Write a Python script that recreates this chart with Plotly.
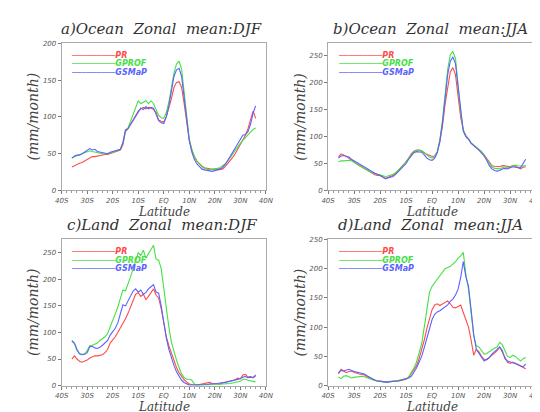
import plotly.graph_objects as go

lat = list(range(-36, 37))
tick_vals = [-40, -30, -20, -10, 0, 10, 20, 30, 40]
tick_text = ["40S", "30S", "20S", "10S", "EQ", "10N", "20N", "30N", "40N"]
series_names = ["PR", "GPROF", "GSMaP"]
series_colors = ["#ff4a4a", "#44e044", "#5a62ff"]
panel_titles = ["a)Ocean Zonal mean:DJF", "b)Ocean Zonal mean:JJA",
                "c)Land Zonal mean:DJF", "d)Land Zonal mean:JJA"]
y_max = [200, 273, 275, 250]

# a) Ocean DJF
oc_djf_pr = [32, 34, 36, 37, 38, 40, 42, 44, 46, 46, 47, 48, 48, 49, 49, 50, 51, 52, 54, 55,
             62, 80, 84, 90, 95, 103, 108, 111, 113, 111, 113, 112, 110, 106, 96, 94, 93,
             100, 112, 125, 140, 147, 148, 140, 118, 90, 68, 55, 46, 40, 36, 33, 31, 30, 29,
             28, 28, 28, 28, 29, 32, 36, 40, 45, 50, 56, 62, 68, 75, 84, 95, 108, 98]
oc_djf_gprof = [44, 46, 47, 49, 50, 51, 52, 54, 53, 52, 51, 50, 50, 50, 50, 51, 52, 53, 54, 56,
                65, 82, 85, 95, 104, 112, 122, 118, 120, 122, 118, 122, 118, 110, 102, 99, 98,
                106, 120, 140, 160, 172, 176, 165, 130, 95, 70, 56, 46, 40, 36, 32, 30, 29,
                28, 29, 29, 30, 31, 33, 36, 40, 45, 50, 55, 60, 64, 68, 72, 76, 80, 83, 85]
oc_djf_gsmap = [44, 47, 48, 48, 50, 52, 55, 57, 55, 56, 53, 52, 51, 50, 50, 52, 53, 53, 54, 56,
                65, 82, 84, 90, 96, 102, 108, 112, 110, 114, 111, 113, 112, 104, 95, 92, 91,
                100, 115, 135, 155, 164, 166, 155, 125, 92, 68, 52, 42, 36, 32, 29, 28, 27,
                27, 26, 27, 28, 29, 31, 35, 40, 46, 52, 58, 64, 70, 75, 76, 80, 90, 105, 115, 121]

# b) Ocean JJA
oc_jja_pr = [62, 68, 66, 63, 60, 57, 53, 49, 46, 43, 40, 37, 34, 31, 29, 28, 28, 26, 22, 24,
             26, 28, 32, 37, 42, 46, 53, 60, 68, 73, 75, 75, 73, 70, 67, 65, 63, 64, 72, 90,
             120, 160, 195, 220, 228, 215, 175, 135, 112, 102, 96, 88, 84, 80, 76, 72, 66,
             60, 52, 46, 45, 45, 44, 46, 46, 45, 44, 46, 45, 42, 40, 43, 44]
oc_jja_gprof = [53, 55, 55, 56, 56, 55, 52, 49, 46, 43, 40, 38, 35, 33, 31, 30, 29, 27, 26, 27,
                28, 30, 33, 37, 42, 47, 53, 60, 67, 72, 74, 75, 74, 70, 66, 62, 60, 62, 72, 95,
                130, 175, 225, 252, 258, 245, 195, 145, 112, 100, 96, 88, 84, 80, 76, 72, 65,
                58, 50, 44, 41, 40, 40, 42, 44, 42, 43, 46, 47, 46, 45, 45, 47]
oc_jja_gsmap = [60, 64, 65, 64, 62, 58, 55, 52, 49, 46, 43, 40, 37, 34, 32, 30, 28, 25, 22, 23,
                24, 26, 30, 35, 39, 44, 50, 58, 65, 70, 72, 72, 71, 66, 60, 57, 56, 60, 70, 92,
                125, 170, 215, 240, 248, 235, 190, 142, 110, 100, 95, 88, 83, 79, 75, 70, 64,
                56, 46, 40, 37, 36, 37, 40, 41, 40, 42, 44, 43, 42, 42, 50, 58]

# c) Land DJF
ld_djf_pr = [50, 56, 50, 46, 44, 46, 48, 52, 54, 56, 56, 57, 58, 62, 68, 80, 85, 92, 100, 108,
             116, 126, 136, 148, 160, 172, 175, 168, 172, 162, 168, 176, 182, 170, 165, 145,
             115, 92, 75, 60, 46, 34, 24, 17, 11, 7, 3, 2, 1, 1, 2, 3, 3, 4, 6, 4, 4, 3, 3,
             5, 6, 7, 8, 10, 11, 14, 13, 20, 21, 16, 17, 15, 18]
ld_djf_gprof = [85, 79, 66, 60, 59, 60, 66, 75, 76, 78, 80, 85, 88, 92, 98, 110, 120, 135, 148,
                165, 180, 178, 190, 205, 220, 235, 250, 245, 255, 240, 248, 255, 264, 238, 236,
                220, 180, 140, 110, 82, 62, 48, 34, 22, 15, 12, 12, 10, 3, 1, 1, 1, 1, 1, 1,
                1, 2, 2, 2, 3, 3, 3, 4, 5, 6, 6, 8, 12, 12, 10, 9, 8, 7]
ld_djf_gsmap = [84, 80, 68, 60, 58, 59, 62, 73, 74, 71, 70, 72, 76, 80, 85, 95, 102, 108, 118,
                138, 152, 150, 160, 170, 178, 182, 176, 180, 172, 175, 182, 186, 190, 176, 174,
                150, 118, 90, 68, 52, 38, 26, 18, 10, 6, 3, 1, 1, 1, 1, 2, 2, 2, 2, 3, 3, 4, 4,
                5, 5, 6, 7, 8, 9, 10, 12, 13, 16, 17, 15, 16, 15, 20]

# d) Land JJA
ld_jja_pr = [20, 28, 25, 22, 24, 25, 23, 21, 20, 19, 18, 15, 13, 11, 10, 8, 8, 7, 6, 6, 7, 7,
             8, 8, 9, 10, 11, 14, 20, 26, 34, 46, 60, 78, 98, 115, 130, 138, 140, 137, 140,
             143, 145, 140, 134, 133, 136, 138, 125, 114, 100, 78, 52, 62, 58, 50, 45, 44, 48,
             52, 56, 60, 66, 58, 48, 40, 38, 40, 38, 36, 34, 31, 29]
ld_jja_gprof = [15, 12, 16, 17, 15, 13, 14, 15, 15, 16, 15, 13, 12, 10, 9, 8, 7, 6, 6, 7, 8, 8,
                8, 9, 10, 10, 12, 15, 22, 30, 40, 55, 72, 100, 135, 160, 170, 176, 182, 188,
                195, 200, 202, 204, 208, 212, 218, 222, 228, 190, 165, 125, 85, 68, 66, 60, 54,
                55, 58, 62, 64, 66, 74, 70, 60, 50, 48, 52, 50, 46, 42, 46, 48]
ld_jja_gsmap = [22, 26, 25, 27, 28, 26, 24, 23, 22, 21, 20, 17, 14, 11, 9, 8, 7, 6, 6, 6, 7, 8,
                8, 8, 9, 10, 11, 13, 16, 22, 30, 40, 50, 65, 82, 100, 113, 122, 126, 128, 131,
                134, 138, 144, 148, 155, 165, 185, 212, 186, 170, 130, 88, 62, 55, 48, 42, 45,
                48, 54, 58, 62, 66, 60, 46, 42, 40, 39, 38, 36, 34, 32, 37]

panels = [
    [oc_djf_pr, oc_djf_gprof, oc_djf_gsmap],
    [oc_jja_pr, oc_jja_gprof, oc_jja_gsmap],
    [ld_djf_pr, ld_djf_gprof, ld_djf_gsmap],
    [ld_jja_pr, ld_jja_gprof, ld_jja_gsmap],
]

W, H = 540, 412
# pixel boxes (left, right, top, bottom)
boxes = [(48, 258, 32, 182), (322, 536, 32, 182),
         (48, 258, 232, 381), (322, 536, 232, 381)]
ytitle_x = [18, 293, 18, 293]

fig = go.Figure()
annotations = []
layout = dict(width=W, height=H, margin=dict(l=0, r=0, t=0, b=0),
              paper_bgcolor="white", plot_bgcolor="white", showlegend=False)

serif = "DejaVu Serif"
tick_font = dict(family="DejaVu Sans", size=7, color="#555555", style="italic")
axis_color = "#aaaaaa"


def px(xp, yp):
    return xp / W, 1 - yp / H


for i, (box, data) in enumerate(zip(boxes, panels)):
    l, r, t, b = box
    xd = [l / W, r / W]
    yd = [1 - b / H, 1 - t / H]
    sfx = "" if i == 0 else str(i + 1)
    for k, (name, color, vals) in enumerate(zip(series_names, series_colors, data)):
        fig.add_trace(go.Scatter(
            x=lat, y=vals, mode="lines",
            line=dict(color=color, width=1.1),
            name=name, xaxis="x" + sfx, yaxis="y" + sfx,
        ))
        lx, ly = px(l + 8, t + 12 + 9 * k)
        annotations.append(dict(
            text=f'<span style="color:{color}">' + "\u2500" * 9 + f'<i>{name}</i></span>',
            x=lx, y=ly, xref="paper", yref="paper", xanchor="left", yanchor="middle",
            showarrow=False, font=dict(family="DejaVu Sans", size=8, weight="bold"),
        ))
    layout["xaxis" + sfx] = dict(
        domain=xd, range=[-40, 40], tickvals=tick_vals, ticktext=tick_text,
        showline=True, mirror=True, linecolor=axis_color, linewidth=1,
        ticks="outside", ticklen=3, tickcolor="#777777", showgrid=False,
        minor=dict(ticks="outside", dtick=2, ticklen=2, tickcolor="#999999"),
        tickfont=tick_font, anchor="y" + sfx, zeroline=False,
    )
    layout["yaxis" + sfx] = dict(
        domain=yd, range=[0, y_max[i]], dtick=50,
        showline=True, mirror=True, linecolor=axis_color, linewidth=1,
        ticks="outside", ticklen=3, tickcolor="#777777", showgrid=False,
        tickfont=tick_font, anchor="x" + sfx, zeroline=False,
    )
    tx, ty = px((l + r) / 2 - 2, t - 15)
    annotations.append(dict(
        text=panel_titles[i].replace(" ", "\u00a0\u00a0"),
        x=tx, y=ty, xref="paper", yref="paper",
        xanchor="center", yanchor="middle", showarrow=False,
        font=dict(family=serif, size=15, color="#333333", style="italic"),
    ))
    ax_, ay_ = px((l + r) / 2, b + 21.5)
    annotations.append(dict(
        text="Latitude", x=ax_, y=ay_, xref="paper", yref="paper",
        xanchor="center", yanchor="middle", showarrow=False,
        font=dict(family=serif, size=12, color="#444444", style="italic"),
    ))
    yx, yy = px(ytitle_x[i], (t + b) / 2)
    annotations.append(dict(
        text="(mm/month)", x=yx, y=yy, xref="paper", yref="paper", textangle=-90,
        xanchor="center", yanchor="middle", showarrow=False,
        font=dict(family=serif, size=14, color="#444444", style="italic"),
    ))

layout["annotations"] = annotations
fig.update_layout(**layout)
fig.write_html("out.html")
